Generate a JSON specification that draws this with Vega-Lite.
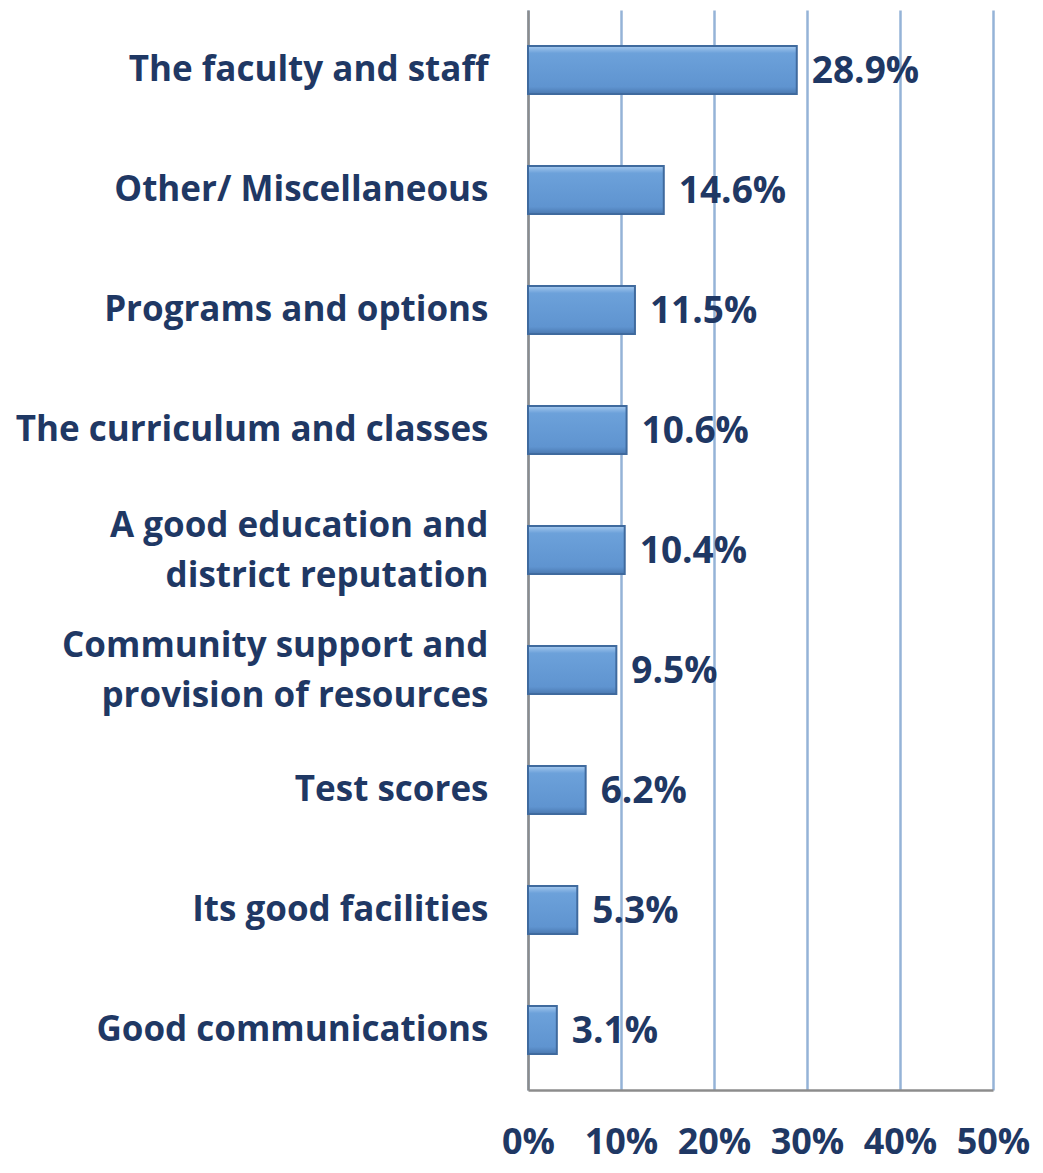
{
  "$schema": "https://vega.github.io/schema/vega-lite/v6.json",
  "width": 465,
  "height": 1080,
  "autosize": {"type": "none"},
  "padding": {"left": 528, "top": 10, "right": 50, "bottom": 83},
  "background": "white",
  "data": {
    "values": [
      {"category": "The faculty and staff", "value": 0.289},
      {"category": "Other/ Miscellaneous", "value": 0.146},
      {"category": "Programs and options", "value": 0.115},
      {"category": "The curriculum and classes", "value": 0.106},
      {"category": "A good education and|district reputation", "value": 0.104},
      {"category": "Community support and|provision of resources", "value": 0.095},
      {"category": "Test scores", "value": 0.062},
      {"category": "Its good facilities", "value": 0.053},
      {"category": "Good communications", "value": 0.031}
    ]
  },
  "config": {
    "view": {"stroke": null},
    "font": "Open Sans"
  },
  "encoding": {
    "y": {
      "field": "category",
      "type": "nominal",
      "sort": null,
      "scale": {"paddingInner": 0.6, "paddingOuter": 0.3},
      "axis": {
        "title": null,
        "labelExpr": "split(datum.value, '|')",
        "labelFont": "Open Sans",
        "labelFontWeight": "bold",
        "labelFontSize": 35,
        "labelColor": "#1F3864",
        "labelLineHeight": 50,
        "labelPadding": 40,
        "labelLimit": 600,
        "labelOffset": {"condition": {"test": "indexof(datum.value, '|') >= 0", "value": -24}, "value": 0},
        "ticks": false,
        "domainColor": "#8C8C8C",
        "domainWidth": 2.5,
        "grid": false
      }
    },
    "x": {
      "field": "value",
      "type": "quantitative",
      "scale": {"domain": [0, 0.5], "nice": false},
      "axis": {
        "title": null,
        "format": ".0%",
        "values": [0, 0.1, 0.2, 0.3, 0.4, 0.5],
        "labelFont": "Open Sans",
        "labelFontWeight": "bold",
        "labelFontSize": 36,
        "labelColor": "#1F3864",
        "labelPadding": 35,
        "labelFlush": false,
        "labelOverlap": false,
        "ticks": false,
        "domainColor": "#8C8C8C",
        "domainWidth": 2.5,
        "grid": true,
        "gridColor": "#95B3D7",
        "gridWidth": 2.5,
        "gridOpacity": 1
      }
    }
  },
  "layer": [
    {
      "mark": {
        "type": "bar",
        "color": {
          "gradient": "linear",
          "x1": 0, "y1": 0, "x2": 0, "y2": 1,
          "stops": [
            {"offset": 0, "color": "#A6C9EE"},
            {"offset": 0.15, "color": "#6CA1DA"},
            {"offset": 0.85, "color": "#5F94D0"},
            {"offset": 1, "color": "#4A78B0"}
          ]
        },
        "stroke": "#3F6A9E",
        "strokeWidth": 2
      }
    },
    {
      "mark": {"type": "text", "align": "left", "baseline": "middle", "dx": 15, "dy": 2, "font": "Open Sans", "fontWeight": "bold", "fontSize": 37, "color": "#1F3864"},
      "encoding": {
        "text": {"field": "value", "type": "quantitative", "format": ".1%"}
      }
    }
  ]
}
